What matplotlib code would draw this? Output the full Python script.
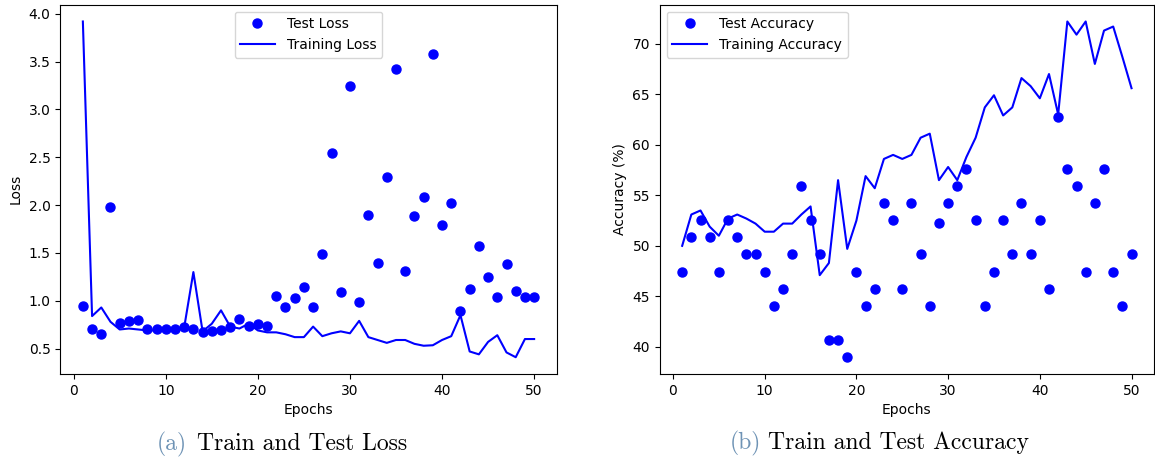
import matplotlib
matplotlib.use("Agg")
import matplotlib.pyplot as plt

# ---- data ----
epochs = list(range(1, 51))

test_loss = [0.95, 0.70, 0.65, 1.98, 0.77, 0.79, 0.80, 0.71, 0.71, 0.70,
             0.71, 0.73, 0.70, 0.67, 0.68, 0.69, 0.73, 0.81, 0.74, 0.76,
             0.74, 1.05, 0.93, 1.03, 1.14, 0.93, 1.49, 2.55, 1.09, 3.25,
             0.99, 1.90, 1.39, 2.29, 3.42, 1.31, 1.89, 2.08, 3.58, 1.79,
             2.02, 0.89, 1.12, 1.57, 1.25, 1.04, 1.38, 1.10, 1.04, 1.04]

train_loss = [3.92, 0.84, 0.93, 0.78, 0.70, 0.71, 0.70, 0.69, 0.69, 0.69,
              0.70, 0.72, 1.30, 0.68, 0.76, 0.90, 0.73, 0.71, 0.76, 0.69,
              0.67, 0.67, 0.65, 0.62, 0.62, 0.73, 0.63, 0.66, 0.68, 0.66,
              0.79, 0.62, 0.59, 0.56, 0.59, 0.59, 0.55, 0.53, 0.535, 0.59,
              0.63, 0.85, 0.47, 0.44, 0.57, 0.64, 0.46, 0.41, 0.60, 0.60]

test_acc = [47.46, 50.85, 52.54, 50.85, 47.46, 52.54, 50.85, 49.15, 49.15, 47.46,
            44.07, 45.76, 49.15, 55.93, 52.54, 49.15, 40.68, 40.68, 38.98, 47.46,
            44.07, 45.76, 54.24, 52.54, 45.76, 54.24, 49.15, 44.07, 52.25, 54.24,
            55.93, 57.63, 52.54, 44.07, 47.46, 52.54, 49.15, 54.24, 49.15, 52.54,
            45.76, 62.71, 57.63, 55.93, 47.46, 54.24, 57.63, 47.46, 44.07, 49.15]

train_acc = [50.0, 53.1, 53.5, 51.9, 51.0, 52.7, 53.1, 52.7, 52.2, 51.4,
             51.4, 52.2, 52.2, 53.1, 53.9, 47.1, 48.3, 56.5, 49.7, 52.5,
             56.9, 55.7, 58.6, 59.0, 58.6, 59.0, 60.7, 61.1, 56.5, 57.8,
             56.5, 58.8, 60.7, 63.7, 64.9, 62.9, 63.7, 66.6, 65.8, 64.6,
             67.0, 63.0, 72.2, 70.9, 72.2, 68.0, 71.3, 71.7, 68.7, 65.6]

# ---- figure ----
W, H = 1155, 459
fig = plt.figure(figsize=(W / 100, H / 100), dpi=100)

def px_axes(x0, y_top, x1, y_bot):
    return fig.add_axes([x0 / W, 1 - y_bot / H, (x1 - x0) / W, (y_bot - y_top) / H])

ax1 = px_axes(60.3, 4.7, 556.7, 374)
ax2 = px_axes(659.7, 4.7, 1154.0, 374)

leg_kw = dict(handlelength=2.5, handletextpad=0.9, fontsize=10)

ax1.plot(epochs, test_loss, 'bo', ms=6.5, label='Test Loss')
ax1.plot(epochs, train_loss, 'b-', lw=1.5, label='Training Loss')
ax1.set_xlabel('Epochs', fontsize=10)
ax1.set_ylabel('Loss', fontsize=10)
ax1.tick_params(labelsize=10)
ax1.legend(loc='upper center', **leg_kw)

ax2.plot(epochs, test_acc, 'bo', ms=6.5, label='Test Accuracy')
ax2.plot(epochs, train_acc, 'b-', lw=1.5, label='Training Accuracy')
ax2.set_xlabel('Epochs', fontsize=10)
ax2.set_ylabel('Accuracy (%)', fontsize=10)
ax2.tick_params(labelsize=10)
ax2.legend(loc='upper left', **leg_kw)

# ---- captions ----
cap_color = '#6e93b5'
cap_fs = 17
def caption(x_lab, x_txt, y, lab, txt):
    fig.text(x_lab / W, 1 - y / H, lab, family='cmr10', fontsize=cap_fs,
             color=cap_color, ha='left', va='baseline')
    fig.text(x_txt / W, 1 - y / H, txt, family='cmr10', fontsize=cap_fs,
             color='black', ha='left', va='baseline')

caption(156.7, 197.3, 450, '(a)', 'Train and Test Loss')
caption(730.0, 768.3, 449, '(b)', 'Train and Test Accuracy')

fig.savefig('out.png', dpi=100)
